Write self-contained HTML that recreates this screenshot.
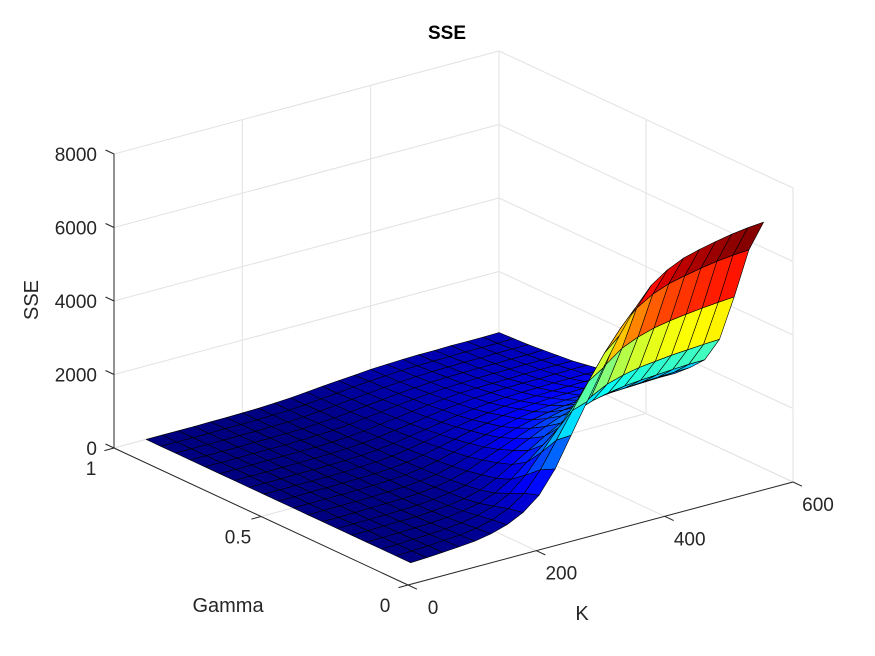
<!DOCTYPE html>
<html><head><meta charset="utf-8"><style>
html,body{margin:0;padding:0;background:#fff;}
svg{display:block;font-family:"Liberation Sans",Arial,sans-serif;}
</style></head><body>
<svg id="chart" width="875" height="656" viewBox="0 0 875 656" xmlns="http://www.w3.org/2000/svg">
<rect width="875" height="656" fill="#fff"/>
<g id="grid"></g>
<g id="axes"></g>
<g id="surf"></g>
<g id="labels"></g>
<text x="447" y="39" text-anchor="middle" font-weight="bold" font-size="19" fill="#000">SSE</text>
</svg>
<script>
const kValues=[50,75,100,125,150,175,200,225,250,275,300,325,350,375,400,425,450,475,500,525,550,575,600];
const gammaValues=[0.1,0.15,0.2,0.25,0.3,0.35,0.4,0.45,0.5,0.55,0.6,0.65,0.7,0.75,0.8,0.85,0.9,0.95,1];
const sseRows=[
[0,20,50,80,120,200,330,550,900,1500,2300,3100,3900,4650,5300,5800,6100,6300,6420,6520,6600,6660,6700],
[0,20,40,70,100,170,280,470,770,1290,1980,2670,3350,4000,4560,4990,5250,5420,5520,5610,5680,5730,5760],
[0,10,30,50,80,130,210,350,580,960,1470,1980,2500,2980,3390,3710,3900,4030,4110,4170,4220,4260,4290],
[0,10,20,40,50,90,150,240,400,660,1010,1360,1720,2050,2330,2550,2680,2770,2820,2870,2900,2930,2950],
[0,10,20,30,40,70,110,180,300,500,760,1020,1290,1530,1750,1910,2010,2080,2120,2150,2180,2200,2210],
[0,10,10,20,30,50,90,150,240,410,620,840,1050,1260,1430,1570,1650,1700,1730,1760,1780,1800,1810],
[0,0,10,20,30,40,70,120,200,330,510,680,860,1020,1170,1280,1340,1390,1410,1430,1450,1470,1470],
[0,0,10,10,20,40,60,100,160,270,410,560,700,840,950,1040,1100,1130,1160,1170,1190,1200,1210],
[0,0,10,10,20,30,50,80,140,230,350,470,590,700,800,870,920,950,960,980,990,1000,1010],
[0,0,10,10,20,30,40,70,120,200,300,400,510,600,690,750,790,820,830,850,860,870,870],
[0,0,10,10,10,20,40,60,100,170,250,340,430,510,580,640,670,690,710,720,730,730,740],
[0,0,0,10,10,20,30,50,90,140,220,290,370,440,500,550,580,600,610,620,630,630,640],
[0,0,0,10,10,20,30,50,80,130,200,260,330,400,450,490,520,540,550,550,560,570,570],
[0,0,0,10,10,20,20,40,70,110,170,230,290,350,400,440,460,470,480,490,500,500,500],
[0,0,0,10,10,10,20,40,60,100,160,210,270,320,360,390,410,430,440,440,450,450,460],
[0,0,0,0,10,10,20,30,60,90,140,190,240,290,330,360,380,390,400,400,410,410,420],
[0,0,0,0,10,10,20,30,50,90,130,180,220,270,300,330,350,360,370,370,380,380,380],
[0,0,0,0,10,10,20,30,50,80,120,160,210,250,280,310,320,330,340,350,350,350,360],
[0,0,0,0,10,10,20,30,50,80,120,160,200,230,270,290,310,320,320,330,330,330,340]
];
const kTicks=[0,200,400,600];
const gammaTicks=[0,0.5,1];
const zTicks=[0,2000,4000,6000,8000];
const kLim=[0,600], gLim=[0,1], zLim=[0,8000];

const NS="http://www.w3.org/2000/svg";
const O=[408,585], EK=[385,-103], EG=[-294,-137], EZ=294;
function px(K,g,z){const kn=(K-kLim[0])/(kLim[1]-kLim[0]),gn=(g-gLim[0])/(gLim[1]-gLim[0]),zn=(z-zLim[0])/(zLim[1]-zLim[0]);
 return [O[0]+EK[0]*kn+EG[0]*gn, O[1]+EK[1]*kn+EG[1]*gn-EZ*zn];}
function depth(K,g,z){return 273*(K/600)+364*g-111*(z/8000);}
function mk(tag,attrs,parent){const e=document.createElementNS(NS,tag);for(const a in attrs)e.setAttribute(a,attrs[a]);parent.appendChild(e);return e;}
function line(p,q,stroke,w,parent,name){const e=mk('line',{x1:p[0],y1:p[1],x2:q[0],y2:q[1],stroke:stroke,'stroke-width':w},parent);
 
 
 return e;}
const grid=document.getElementById('grid'),axes=document.getElementById('axes'),surf=document.getElementById('surf'),labels=document.getElementById('labels');
const GC='#e2e2e2';
kTicks.forEach(k=>{line(px(k,1,zLim[0]),px(k,1,zLim[1]),GC,1,grid,'grid-k-wall');line(px(k,0,0),px(k,1,0),GC,1,grid,'grid-k-floor');});
gammaTicks.forEach(g=>{line(px(600,g,zLim[0]),px(600,g,zLim[1]),GC,1,grid,'grid-gamma-wall');line(px(0,g,0),px(600,g,0),GC,1,grid,'grid-gamma-floor');});
zTicks.forEach(z=>{line(px(0,1,z),px(600,1,z),GC,1,grid,'grid-z-left-wall');line(px(600,1,z),px(600,0,z),GC,1,grid,'grid-z-right-wall');});
line(px(0,0,zLim[0]),px(0,1,zLim[0]),GC,1,grid,'box-edge');
function jet(v){v=Math.max(0,Math.min(1,v));
 const f=(x)=>Math.max(0,Math.min(1,x));
 const r=f(Math.min(4*v-1.5,-4*v+4.5)),g=f(Math.min(4*v-0.5,-4*v+3.5)),b=f(Math.min(4*v+0.5,-4*v+2.5));
 return 'rgb('+Math.round(r*255)+','+Math.round(g*255)+','+Math.round(b*255)+')';}
let zmin=Infinity,zmax=-Infinity;sseRows.forEach(r=>r.forEach(v=>{zmin=Math.min(zmin,v);zmax=Math.max(zmax,v);}));
const faces=[];
for(let i=0;i<gammaValues.length-1;i++)for(let j=0;j<kValues.length-1;j++){
 const c=[[j,i],[j+1,i],[j+1,i+1],[j,i+1]];
 let d=0;const pts=c.map(([jj,ii])=>{const K=kValues[jj],g=gammaValues[ii],z=sseRows[ii][jj];d+=depth(K,g,z);return px(K,g,z);});
 faces.push({pts,d,col:jet((sseRows[i][j]-zmin)/(zmax-zmin))});}
faces.sort((a,b)=>b.d-a.d);
faces.forEach(f=>{const e=mk('polygon',{points:f.pts.map(p=>p[0].toFixed(1)+','+p[1].toFixed(1)).join(' '),fill:f.col,stroke:'#000','stroke-width':0.6,'stroke-linejoin':'round'},surf);
 
 });
const AC='#262626';
line(px(0,0,0),px(600,0,0),AC,1,axes,'k-axis-line');
line(px(0,0,0),px(0,1,0),AC,1,axes,'gamma-axis-line');
line(px(0,1,zLim[0]),px(0,1,zLim[1]),AC,1,axes,'z-axis-line');
function tx(x,y,s,anchor,size,name){const e=mk('text',{x:x,y:y,'text-anchor':anchor,'font-size':size,fill:AC},labels);e.textContent=s;
 
 return e;}
kTicks.forEach(k=>{const p=px(k,0,0);line(p,[p[0]+9,p[1]+4.2],AC,1,axes,'k-tick');tx(p[0]+25,p[1]+29,String(k),'middle',19,'k-tick-label');});
gammaTicks.forEach(g=>{const p=px(0,g,0);line(p,[p[0]-9.6,p[1]+2.6],AC,1,axes,'gamma-tick');tx(p[0]-23,p[1]+27,String(g),'middle',19,'gamma-tick-label');});
zTicks.forEach(z=>{const p=px(0,1,z);line(p,[p[0]-8.5,p[1]-4],AC,1,axes,'z-tick');tx(p[0]-17,p[1]+7,String(z),'end',19,'z-tick-label');});
tx(582,620,'K','middle',20,'k-axis-title');
tx(228,612,'Gamma','middle',20,'gamma-axis-title');
const zt=tx(0,0,'SSE','middle',20,'z-axis-title');zt.setAttribute('transform','translate(38,300) rotate(-90)');
</script>
</body></html>
